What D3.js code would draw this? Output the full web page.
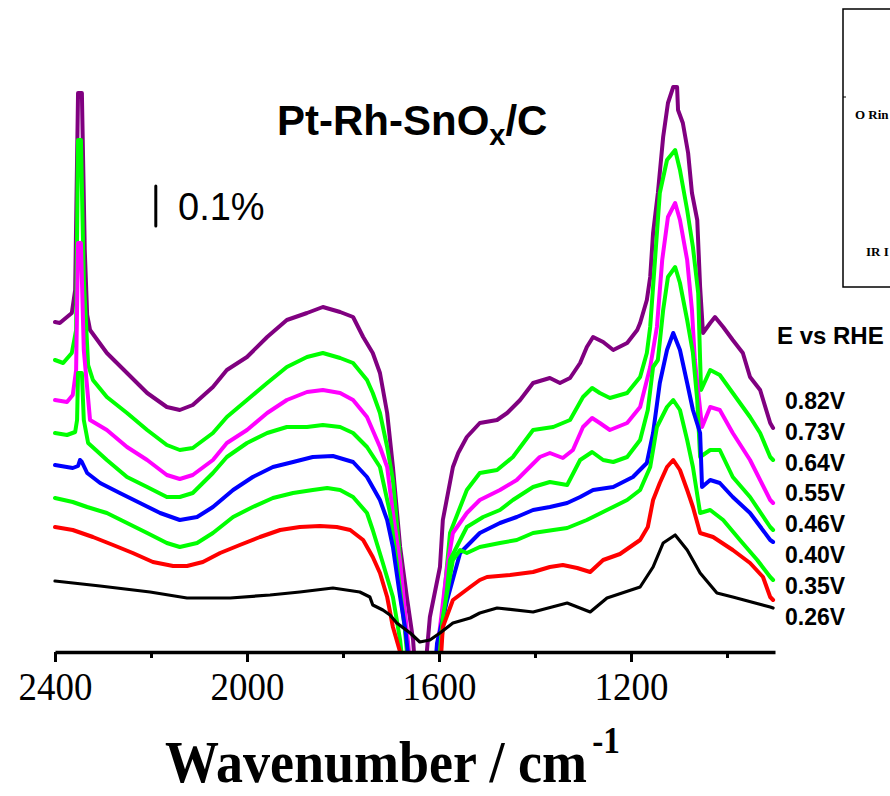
<!DOCTYPE html>
<html>
<head>
<meta charset="utf-8">
<script src="https://cdn.jsdelivr.net/npm/d3@7"></script>
<style>
  html, body { margin: 0; padding: 0; background: #fff; }
  svg { display: block; }
</style>
</head>
<body>
<svg id="chart" width="890" height="796"></svg>
<script>
// ---------- DATA (wavenumber cm^-1, signal in units of 0.01 %) ----------
const potentials = ["0.82V", "0.73V", "0.64V", "0.55V", "0.46V", "0.40V", "0.35V", "0.26V"];
const colors = ["#800080", "#00ff00", "#ff00ff", "#00ff00", "#0000ff", "#00ff00", "#ff0000", "#000000"];
const xTickLabels = [2400, 2000, 1600, 1200];
const xMinorTicks = [2200, 1800, 1400, 1000];

const s082 = [[2400,82.5],[2390,82.25],[2365,84.75],[2358,90.5],[2352,139.75],[2344,139.75],[2338,100.5],[2333,84.25],[2327,80.5],[2292,74.75],[2250,69.75],[2208,64.75],[2167,61.25],[2140,60.5],[2113,61.75],[2071,66.25],[2042,70.5],[2000,73.75],[1958,78.75],[1917,83],[1875,84.75],[1842,86.25],[1806,85],[1779,83.75],[1758,78.75],[1738,74.75],[1723,69.75],[1708,59.75],[1696,46.25],[1681,26.25],[1667,13.75],[1654,3],[1648,-7],[1631,-7],[1625,0.5],[1619,8.75],[1598,21.25],[1592,33],[1571,46.25],[1560,49.75],[1542,53.75],[1515,57.25],[1479,58],[1458,59.75],[1431,63],[1404,67.25],[1369,68.5],[1348,67.25],[1327,68.5],[1306,72.25],[1292,76.25],[1279,78.75],[1258,77.5],[1237,75.5],[1208,77.25],[1187,80.5],[1181,82.25],[1167,88],[1160,93.75],[1154,104.75],[1144,114.75],[1133,128.75],[1123,137.25],[1112,141.25],[1104,141.25],[1102,135.5],[1092,132.25],[1081,124.75],[1073,114.75],[1062,108],[1056,91.25],[1050,79.75],[1035,82.25],[1025,83.75],[1008,81.25],[988,78],[967,74.75],[952,68.75],[931,65.5],[910,57.25],[904,56]];

const s073 = [[2400,73],[2383,72.25],[2365,74.75],[2356,80.5],[2352,128],[2346,128],[2340,93],[2331,71.75],[2321,68],[2292,63.75],[2250,59.75],[2208,55.5],[2167,51.75],[2140,50.5],[2113,51],[2071,54.75],[2042,58.75],[2000,63],[1958,67.25],[1917,71.25],[1875,73.75],[1842,74.75],[1806,73.5],[1779,72.25],[1750,68],[1738,64.75],[1723,59.75],[1708,51.25],[1696,43],[1681,23],[1671,8],[1665,0],[1655,-9.5],[1610,-9.5],[1600,0],[1590,13],[1577,29.75],[1542,40.5],[1515,44.75],[1479,45.5],[1446,48.75],[1404,55.5],[1362,56.25],[1327,58],[1300,63.75],[1281,66],[1265,64.75],[1244,63.5],[1208,64.75],[1181,68.75],[1167,74.75],[1160,81.25],[1150,98],[1140,114.75],[1125,123],[1108,125.5],[1098,120.5],[1083,110.5],[1071,101.25],[1060,89.75],[1056,73],[1054,65.5],[1035,70.5],[1015,69.25],[988,64.75],[952,58.75],[931,54.75],[910,48.75],[904,48]];

const s064 = [[2400,63],[2375,62.5],[2363,64.25],[2356,70.5],[2352,102.25],[2346,102.25],[2340,75.5],[2327,58],[2292,55.5],[2250,51.25],[2208,48],[2167,44.25],[2140,43.25],[2113,44.25],[2071,48],[2042,52.25],[2000,55.5],[1958,59.75],[1917,63],[1875,65],[1842,65.5],[1806,64.75],[1779,63],[1750,58.75],[1723,51.25],[1708,46.25],[1696,34.75],[1681,22.25],[1665,3],[1655,-9.5],[1612,-9.5],[1604,0],[1583,21.25],[1571,29.75],[1542,34.75],[1515,38],[1473,40.5],[1438,43],[1390,48.75],[1369,49.75],[1342,48.5],[1321,50.5],[1300,56.25],[1281,58.5],[1265,57.25],[1244,55.5],[1208,57.25],[1181,61.25],[1160,71.25],[1146,81.25],[1135,98],[1123,108.75],[1108,112.25],[1098,108],[1083,98],[1073,85.5],[1067,73],[1062,67.25],[1052,56.25],[1035,61.25],[1015,60.5],[988,54.75],[952,48],[910,38],[904,37.25]];

const s055 = [[2400,54.75],[2375,54.25],[2358,55],[2354,58],[2352,69.75],[2344,69.75],[2340,58],[2331,52.25],[2292,48],[2250,43.75],[2208,41.25],[2167,38.75],[2140,38.75],[2113,39.75],[2071,44.75],[2042,48.75],[2000,52.25],[1958,54.75],[1917,56.25],[1875,56.25],[1842,56.75],[1806,56.25],[1779,54.75],[1750,51.25],[1723,46.25],[1702,34.75],[1688,22.25],[1671,5.5],[1660,-9.5],[1610,-9.5],[1598,0],[1590,8],[1577,23],[1542,31.25],[1508,33.75],[1473,35.5],[1446,38],[1404,41.25],[1369,42.5],[1333,41.75],[1306,48],[1281,50],[1258,48],[1237,47.5],[1208,48.75],[1181,53],[1165,60.5],[1154,71.25],[1144,73],[1133,85.5],[1123,93.75],[1108,96.25],[1098,92.25],[1083,83],[1071,74.75],[1062,63],[1056,48.75],[1035,50.5],[1015,50.5],[988,43.75],[952,38.75],[910,31.25],[904,30.5]];

const s046 = [[2400,46.75],[2363,46],[2352,46.5],[2348,48],[2344,47.5],[2333,44.75],[2306,42.25],[2265,39.75],[2223,37.25],[2181,34.75],[2140,33],[2104,33.75],[2071,36.25],[2029,40.5],[1988,43.75],[1946,46.25],[1904,47.5],[1863,48.75],[1821,49],[1779,47.5],[1750,43.75],[1723,38],[1708,33],[1696,26.25],[1681,13.75],[1670,5.5],[1665,0],[1655,-9.5],[1612,-9.5],[1604,2.25],[1583,13],[1556,24.75],[1515,29.75],[1473,32.25],[1438,33.75],[1404,35.5],[1369,36.25],[1333,37.25],[1306,38.75],[1279,40.5],[1237,41.25],[1196,43.75],[1167,47.25],[1154,54.75],[1140,67.25],[1125,75.5],[1112,79.75],[1098,75.5],[1083,67.25],[1071,60.5],[1056,54.75],[1052,41.25],[1035,43],[1015,42.25],[988,38.75],[952,34.75],[910,28],[904,27.5]];

const s040 = [[2400,38.5],[2363,37.5],[2333,36.25],[2292,34.75],[2250,32.25],[2208,29.75],[2167,27.25],[2140,26.25],[2104,27.25],[2071,29.75],[2029,33.75],[1988,36.25],[1946,38.5],[1904,39.75],[1863,40.5],[1833,41],[1806,40.5],[1779,38.75],[1750,34.75],[1738,30.5],[1717,22.25],[1696,13.75],[1681,3],[1670,-9.5],[1608,-9.5],[1598,0],[1592,8.75],[1571,23],[1556,25.5],[1542,24.75],[1515,26.25],[1473,27.25],[1438,28],[1404,29.75],[1362,30.5],[1333,31],[1292,33],[1250,35.5],[1208,38],[1181,40.5],[1160,46.25],[1146,56.25],[1125,61.25],[1112,63],[1098,60.5],[1083,53],[1071,46.25],[1056,34.75],[1035,35.5],[1008,33],[973,28],[937,23],[910,18.75],[904,18]];

const s035 = [[2400,31.25],[2363,30.5],[2321,28.75],[2279,26.75],[2238,24.75],[2196,22.5],[2154,21.5],[2125,21.5],[2092,22.5],[2056,24.75],[2015,26.75],[1973,28.75],[1931,30.5],[1890,31.25],[1848,31.5],[1813,31.25],[1785,30.5],[1758,28],[1738,23.75],[1723,19.75],[1708,13.75],[1696,6.25],[1681,0],[1670,-9.5],[1600,-9.5],[1592,6.25],[1571,13],[1535,16.25],[1515,18],[1500,18.75],[1452,19.25],[1404,20],[1369,21.25],[1342,21.75],[1312,21],[1285,20],[1258,23],[1223,24.5],[1181,28],[1165,31.25],[1154,38],[1140,42.25],[1125,46.25],[1112,48],[1098,45.5],[1083,40.5],[1071,36.25],[1056,29.75],[1029,28.75],[988,25.5],[952,22.25],[925,18.75],[910,13.75],[904,13]];

const s026 = [[2400,17.75],[2306,16.5],[2202,15],[2125,13.5],[2035,13.5],[1952,14.25],[1890,15],[1821,16],[1765,15],[1744,13.75],[1738,11.75],[1717,10.5],[1702,9.25],[1688,7.25],[1660,4.75],[1640,2.5],[1619,3],[1598,4.75],[1571,7.25],[1535,8.5],[1515,9.75],[1479,11],[1404,10],[1333,12.25],[1285,10],[1250,13.5],[1181,16.25],[1154,21.25],[1133,27.25],[1108,29.25],[1083,25.5],[1056,19.75],[1021,14.75],[988,13.75],[910,11.25],[904,11]];

const seriesValues = [s082, s073, s064, s055, s046, s040, s035, s026];

// ---------- CHART ----------
const svg = d3.select("#chart");
const x = d3.scaleLinear().domain([2400, 900]).range([55, 775]);
const y = d3.scaleLinear().domain([0, 100]).range([652, 252]);
const axisY = y(0);

svg.append("defs").append("clipPath").attr("id", "plotclip")
  .append("rect").attr("x", 40).attr("y", 0).attr("width", 740).attr("height", axisY);

const line = d3.line().x(d => x(d[0])).y(d => y(d[1]));

const g = svg.append("g").attr("clip-path", "url(#plotclip)");
seriesValues.forEach((s, i) => {
  g.append("path")
    .attr("d", line(s))
    .attr("fill", "none")
    .attr("stroke", colors[i])
    .attr("stroke-width", i === 7 ? 3.2 : 4)
    .attr("stroke-linejoin", "round")
    .attr("stroke-linecap", "round");
});

// x axis
const axisMajor = d3.axisBottom(x).tickValues(xTickLabels).tickSize(10).tickSizeOuter(0).tickFormat(d3.format("d"));
const ax = svg.append("g").attr("transform", `translate(0,${axisY})`).call(axisMajor);
ax.select(".domain").attr("stroke", "#000").attr("stroke-width", 3.5);
ax.selectAll(".tick line").attr("stroke", "#000").attr("stroke-width", 3);
ax.selectAll(".tick text")
  .attr("font-family", "'Liberation Serif','Times New Roman',serif")
  .attr("font-size", 41).attr("fill", "#000")
  .attr("y", 48).attr("dy", 0)
  .attr("transform", "scale(0.9,1)");

const axisMinor = d3.axisBottom(x).tickValues(xMinorTicks).tickSize(6).tickSizeOuter(0).tickFormat("");
const axm = svg.append("g").attr("transform", `translate(0,${axisY})`).call(axisMinor);
axm.select(".domain").remove();
axm.selectAll(".tick line").attr("stroke", "#000").attr("stroke-width", 3);

// axis title
const xt = svg.append("text")
  .attr("transform", "translate(165,782) scale(0.9,1)")
  .attr("font-family", "'Liberation Serif','Times New Roman',serif")
  .attr("font-weight", "bold").attr("font-size", 60).attr("fill", "#000");
xt.append("tspan").text("Wavenumber / cm");
xt.append("tspan").attr("font-size", 37).attr("dy", -29).attr("dx", 6).text("-1");

// title
const tt = svg.append("text").attr("x", 277).attr("y", 135)
  .attr("font-family", "'Liberation Sans',Arial,sans-serif")
  .attr("font-weight", "bold").attr("font-size", 42).attr("fill", "#000");
tt.append("tspan").text("Pt-Rh-SnO");
tt.append("tspan").attr("font-size", 29).attr("dy", 10).text("x");
tt.append("tspan").attr("dy", -10).text("/C");

// scale bar 0.1 %
const barX = x(2190);
svg.append("line").attr("x1", barX).attr("x2", barX)
  .attr("y1", y(106.5)).attr("y2", y(116.5))
  .attr("stroke", "#000").attr("stroke-width", 3).attr("stroke-linecap", "round");
svg.append("text").attr("x", 178).attr("y", 220)
  .attr("font-family", "'Liberation Sans',Arial,sans-serif")
  .attr("font-size", 38).attr("fill", "#000").text("0.1%");

// legend
svg.append("text").attr("x", 777).attr("y", 344)
  .attr("font-family", "'Liberation Sans',Arial,sans-serif")
  .attr("font-weight", "bold").attr("font-size", 24).attr("fill", "#000").text("E vs RHE");
potentials.forEach((p, i) => {
  svg.append("text").attr("x", 785).attr("y", 409 + i * 30.8)
    .attr("font-family", "'Liberation Sans',Arial,sans-serif")
    .attr("font-weight", "bold").attr("font-size", 23).attr("fill", "#000").text(p);
});

// inset (cut off at right edge, as in the original figure)
svg.append("rect").attr("x", 843).attr("y", 9).attr("width", 80).attr("height", 278)
  .attr("fill", "none").attr("stroke", "#000").attr("stroke-width", 1.5);
svg.append("line").attr("x1", 843).attr("x2", 846).attr("y1", 97).attr("y2", 97)
  .attr("stroke", "#000").attr("stroke-width", 1);
svg.append("text").attr("x", 855).attr("y", 119)
  .attr("font-family", "'Liberation Serif','Times New Roman',serif")
  .attr("font-weight", "bold").attr("font-size", 13).attr("fill", "#000").text("O Rin");
svg.append("text").attr("x", 866).attr("y", 256)
  .attr("font-family", "'Liberation Serif','Times New Roman',serif")
  .attr("font-weight", "bold").attr("font-size", 13).attr("fill", "#000").text("IR I");
</script>
</body>
</html>
